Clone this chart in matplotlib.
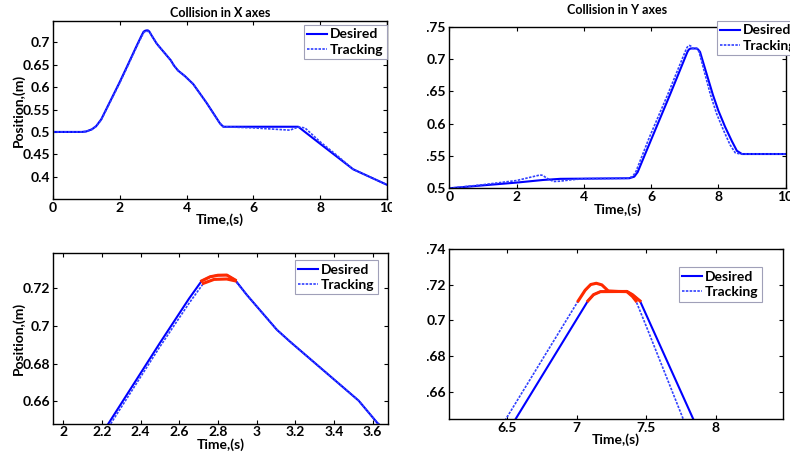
import numpy as np
import matplotlib
matplotlib.use('Agg')
from matplotlib import pyplot as plt
from matplotlib.patches import Rectangle

# collision in X: desired and tracked position (m) vs time (s)
x_t_des = [0, 0.87, 1.0, 1.17, 1.3, 1.45, 2.0, 2.233, 2.5, 2.65, 2.716, 2.76, 2.8, 2.846,
           2.889, 2.95, 3.105, 3.174, 3.528, 3.626, 3.75, 3.95, 4.2, 4.6, 5.0, 5.1, 6.0,
           7.0, 7.34, 8.0, 8.48, 8.98, 10]
x_p_des = [0.5, 0.5, 0.501, 0.5058, 0.513, 0.528, 0.611, 0.648, 0.691, 0.7145, 0.724,
           0.7262, 0.727, 0.7271, 0.7245, 0.7165, 0.698, 0.6916, 0.6603, 0.6483, 0.637,
           0.625, 0.607, 0.565, 0.519, 0.5116, 0.5116, 0.5116, 0.5116, 0.4732, 0.4455,
           0.4165, 0.3815]
x_t_trk = [0, 0.87, 1.0, 1.17, 1.3, 1.45, 2.0, 2.233, 2.5, 2.65, 2.725, 2.78, 2.846, 2.89,
           2.95, 3.105, 3.174, 3.528, 3.626, 3.75, 3.95, 4.2, 4.6, 5.0, 5.1, 6.0, 7.09,
           7.34, 7.54, 8.0, 8.48, 8.98, 10]
x_p_trk = [0.5, 0.5, 0.501, 0.5055, 0.5125, 0.527, 0.609, 0.646, 0.689, 0.712, 0.7227,
           0.7248, 0.725, 0.724, 0.7165, 0.698, 0.6916, 0.6603, 0.6483, 0.637, 0.625,
           0.607, 0.565, 0.519, 0.5116, 0.509, 0.504, 0.511, 0.509, 0.4775, 0.4485,
           0.4165, 0.3815]

# collision in Y
y_t_des = [0, 1, 2, 2.8, 3.3, 5.35, 5.5, 5.6, 6.0, 6.56, 7.08, 7.12, 7.17, 7.36, 7.4,
           7.454, 7.837, 8.0, 8.2, 8.4, 8.55, 8.7, 10]
y_p_des = [0.5, 0.5045, 0.5088, 0.5129, 0.5146, 0.5155, 0.518, 0.525, 0.575, 0.6446,
           0.711, 0.7145, 0.7162, 0.7163, 0.7145, 0.711, 0.6446, 0.62, 0.595, 0.573,
           0.558, 0.553, 0.553]
y_t_trk = [0, 1, 2, 2.7, 2.78, 2.9, 3.1, 3.3, 3.6, 4.0, 5.3, 5.45, 5.55, 5.95, 6.49,
           7.01, 7.06, 7.1, 7.14, 7.18, 7.226, 7.3, 7.36, 7.4, 7.425, 7.5, 7.765, 7.95,
           8.15, 8.35, 8.5, 8.65, 10]
y_p_trk = [0.5, 0.5055, 0.512, 0.5206, 0.52, 0.5155, 0.5105, 0.511, 0.513, 0.5148,
           0.5155, 0.518, 0.526, 0.579, 0.6446, 0.711, 0.717, 0.7202, 0.7209, 0.72,
           0.7166, 0.7163, 0.7162, 0.7135, 0.711, 0.6966, 0.6446, 0.615, 0.59, 0.567,
           0.555, 0.553, 0.553]

# collision thresholds (red part of the zoomed plots)
x_limit = 0.7225
y_limit = 0.711

tl_xticks = [0, 2, 4, 6, 8, 10]
tl_yticks = [0.4, 0.45, 0.5, 0.55, 0.6, 0.65, 0.7]
tr_yticks = [0.5, 0.55, 0.6, 0.65, 0.7, 0.75]
bl_xticks = [2, 2.2, 2.4, 2.6, 2.8, 3, 3.2, 3.4, 3.6]
bl_yticks = [0.66, 0.68, 0.7, 0.72]
br_xticks = [6.5, 7, 7.5, 8]
br_yticks = [0.66, 0.68, 0.7, 0.72, 0.74]

plt.rcParams['font.family'] = ['Lato', 'DejaVu Sans']
plt.rcParams['font.weight'] = 'bold'
FS = 10

fig = plt.figure(figsize=(7.9, 4.55), dpi=100)
ax1 = fig.add_axes([0.0667, 0.5626, 0.4235, 0.3912])
ax2 = fig.add_axes([0.5687, 0.5862, 0.4258, 0.3552])
ax3 = fig.add_axes([0.0667, 0.0688, 0.4244, 0.3758])
ax4 = fig.add_axes([0.5687, 0.0791, 0.422, 0.373])


def draw(ax, td, pd, tt, pt, limit=None):
    ax.plot(td, pd, color='#0000ff', lw=1.5, label='Desired')
    ax.plot(tt, pt, color='#3040ff', lw=1.2, ls=(0, (1.5, 0.8)), label='Tracking')
    if limit is not None:
        pd = np.array(pd)
        pt = np.array(pt)
        ax.plot(td, np.where(pd >= limit, pd, np.nan), color='#ff2a00', lw=2.2)
        ax.plot(tt, np.where(pt >= limit, pt, np.nan), color='#ff2a00', lw=2.2)


def style(ax, xticks, yticks, xlim, ylim, legend_at, legend_loc):
    ax.set_xlim(*xlim)
    ax.set_ylim(*ylim)
    ax.set_xticks(xticks)
    ax.set_xticklabels(['%g' % v for v in xticks])
    ax.set_yticks(yticks)
    ax.set_yticklabels(['%g' % v for v in yticks])
    ax.tick_params(direction='in', length=3, top=True, right=True, labelsize=FS, pad=2)
    for s in ax.spines.values():
        s.set_linewidth(1.0)
    ax.set_xlabel('Time,(s)', fontsize=FS, fontweight='bold', labelpad=0)
    leg = ax.legend(loc=legend_loc, bbox_to_anchor=legend_at, fontsize=FS, fancybox=False,
                    handlelength=1.4, handletextpad=0.2, borderpad=0.25, labelspacing=0.25,
                    borderaxespad=0, framealpha=1)
    leg.get_frame().set_edgecolor('#a0a0b8')
    leg.get_frame().set_linewidth(0.8)


draw(ax1, x_t_des, x_p_des, x_t_trk, x_p_trk)
style(ax1, tl_xticks, tl_yticks, (0, 10), (0.35, 0.748), (0.998, 0.978), 'upper right')
ax1.set_title('Collision in X axes', fontsize=9, fontweight='bold', pad=3)
ax1.set_ylabel('Position,(m)', fontsize=FS, fontweight='bold', labelpad=-2)

draw(ax2, y_t_des, y_p_des, y_t_trk, y_p_trk)
style(ax2, tl_xticks, tr_yticks, (0, 10), (0.5, 0.75), (0.795, 1.035), 'upper left')
ax2.set_title('Collision in Y axes', fontsize=9, fontweight='bold', pad=9)

draw(ax3, x_t_des, x_p_des, x_t_trk, x_p_trk, x_limit)
style(ax3, bl_xticks, bl_yticks, (1.945, 3.68), (0.648, 0.739), (0.969, 0.957), 'upper right')
ax3.set_ylabel('Position,(m)', fontsize=FS, fontweight='bold', labelpad=-2)

draw(ax4, y_t_des, y_p_des, y_t_trk, y_p_trk, y_limit)
style(ax4, br_xticks, br_yticks, (6.083, 8.48), (0.6446, 0.74), (0.937, 0.894), 'upper right')

# right column was cropped in the original figure
fig.patches.append(Rectangle((392 / 790, 0), 35 / 790, 1, transform=fig.transFigure,
                             facecolor='white', edgecolor='none', zorder=5))

fig.savefig('out.png', dpi=100)
